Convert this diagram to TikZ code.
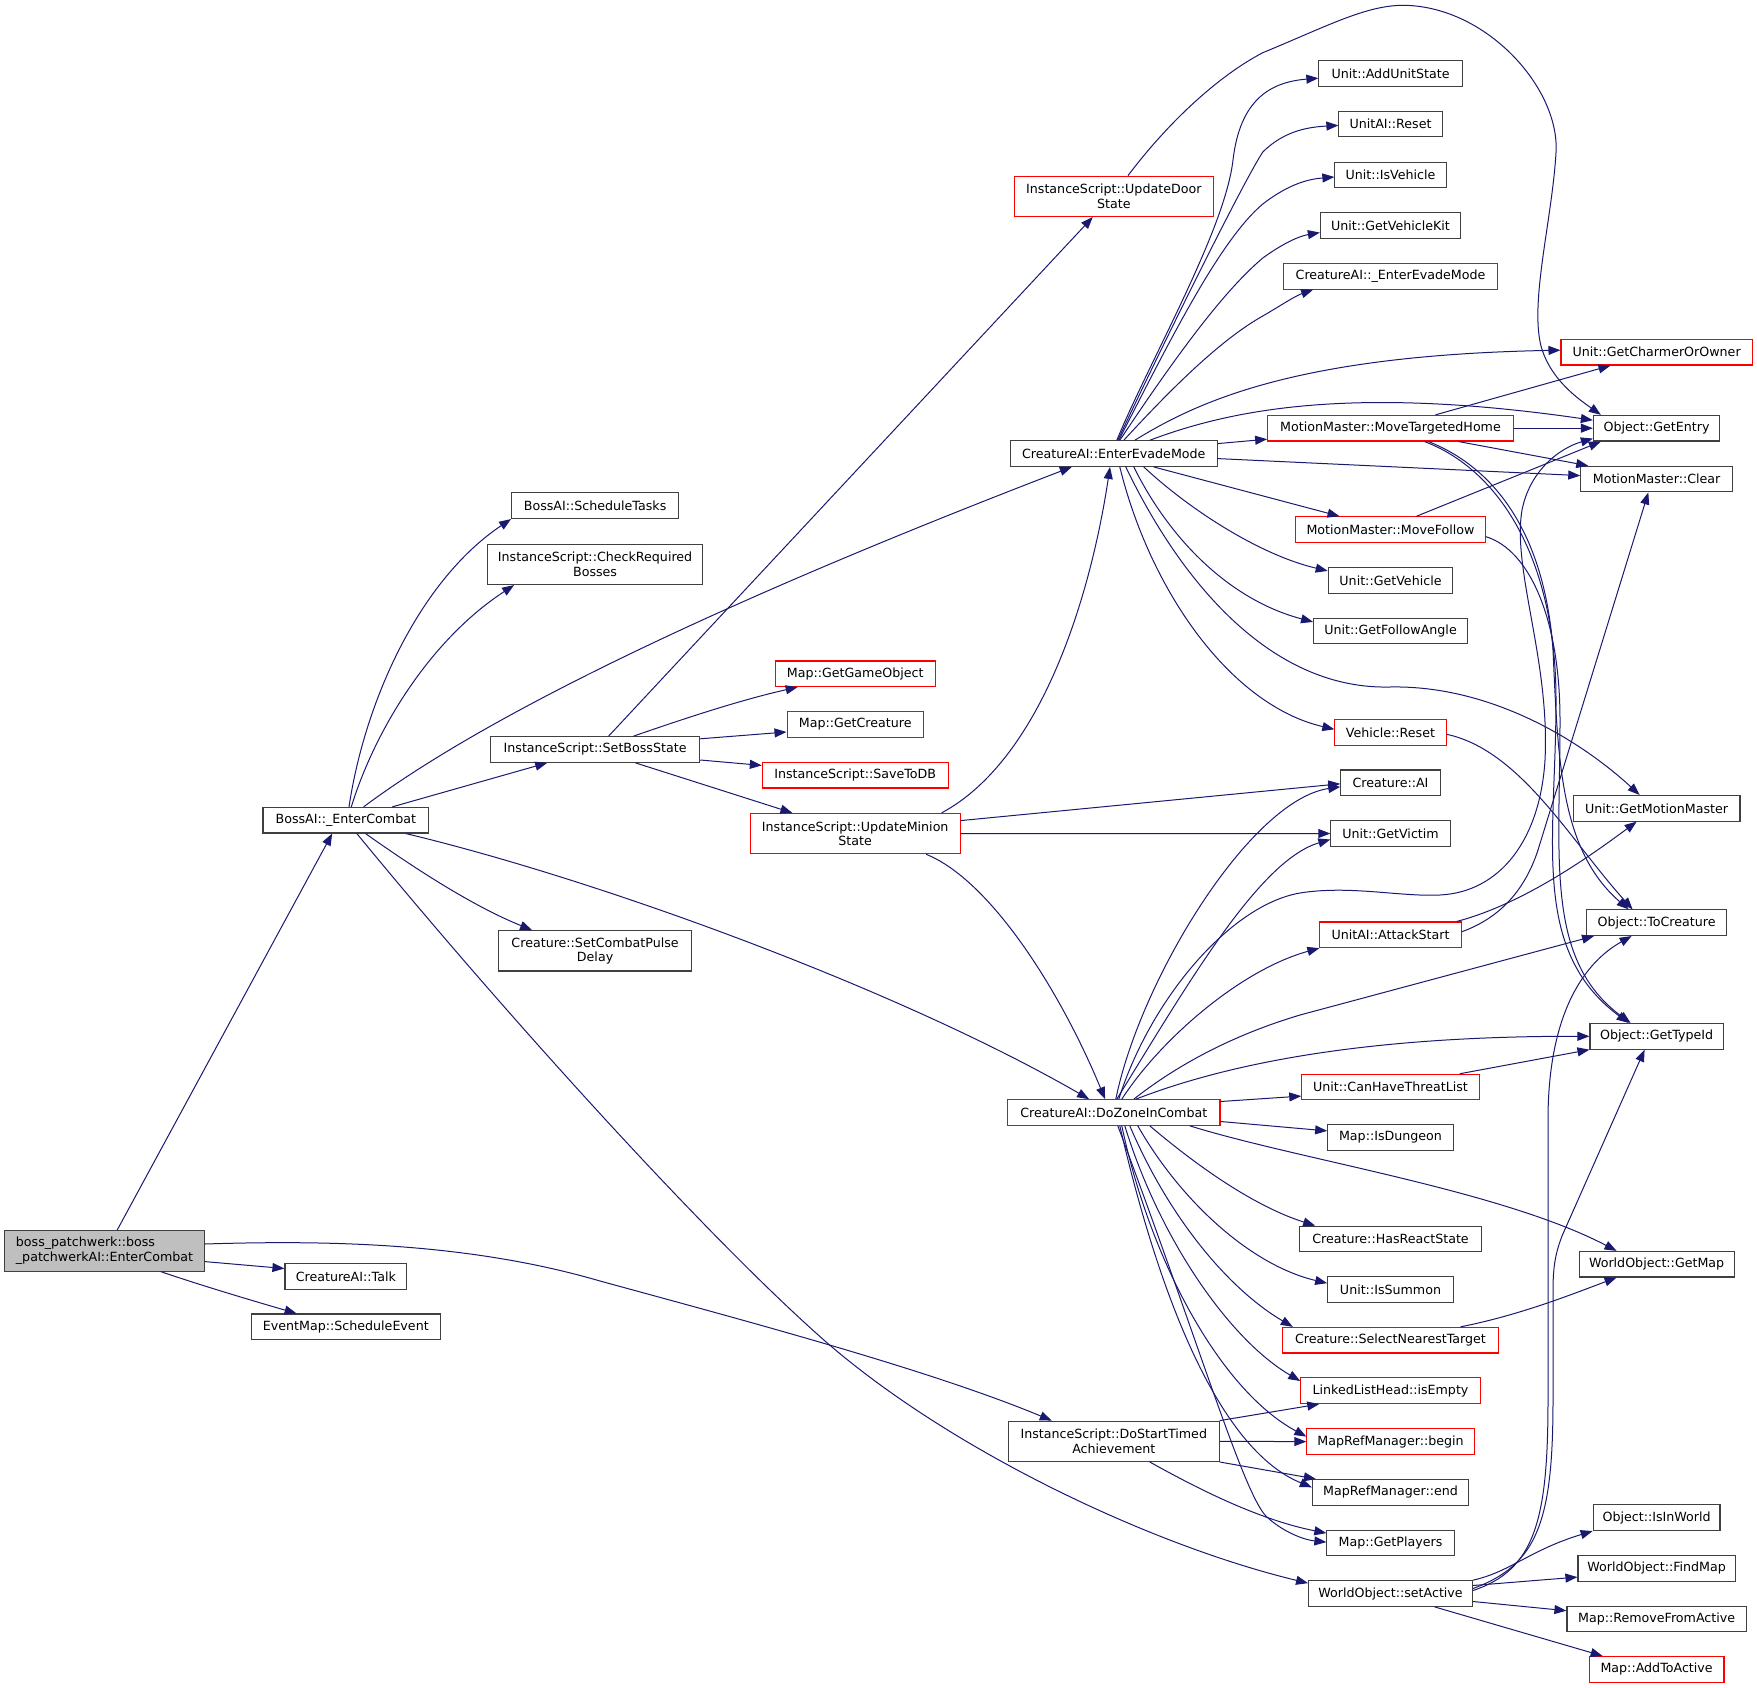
\documentclass[tikz,border=0pt]{standalone}
\usepackage{fontspec}
\setmainfont{DejaVu Sans}
\usetikzlibrary{arrows.meta,calc}
\definecolor{edgeblue}{HTML}{191970}
\definecolor{boxgrey}{HTML}{404040}
\definecolor{rootfill}{HTML}{BFBFBF}
\newcommand{\nodefnt}{\fontsize{12.65}{14.5}\selectfont}
\begin{document}
\begin{tikzpicture}[x=1pt,y=-1pt,
  box/.style={draw=boxgrey, line width=1.1pt, minimum height=25.6pt, inner sep=0pt, font=\nodefnt, align=center},
  redbox/.style={box, draw=red},
  tall/.style={minimum height=40.3pt},
  edg/.style={draw=edgeblue, line width=1pt, -{Triangle[length=12pt,width=9pt]}}]
\useasboundingbox (0,0) rectangle (1757,1688);

% column 0/1
\node[box, tall, fill=rootfill, align=left, minimum width=199.8pt] (root) at (104.5,1250.9) {boss\_patchwerk::boss\\\_patchwerkAI::EnterCombat};
\node[box, minimum width=165.7pt] (enter) at (345.8,820.2) {BossAI::\_EnterCombat};
\node[box, minimum width=121.7pt] (talk) at (345.8,1276.3) {CreatureAI::Talk};
\node[box, minimum width=188.7pt] (sched) at (345.8,1326.8) {EventMap::ScheduleEvent};
% column 2
\node[box, minimum width=167pt] (tasks) at (595.1,505.7) {BossAI::ScheduleTasks};
\node[box, tall, minimum width=214.9pt] (checkreq) at (595.1,564.4) {InstanceScript::CheckRequired\\Bosses};
\node[box, minimum width=209.2pt] (setboss) at (595.1,749.5) {InstanceScript::SetBossState};
\node[box, tall, minimum width=193.4pt] (pulse) at (595.1,950.8) {Creature::SetCombatPulse\\Delay};
% column 3
\node[redbox, minimum width=160pt] (getgo) at (855.2,673.8) {Map::GetGameObject};
\node[redbox, minimum width=136.3pt] (getcre) at (855.2,724.3) {Map::GetCreature};
\node[redbox, minimum width=185.7pt] (savedb) at (855.2,775.2) {InstanceScript::SaveToDB};
\node[redbox, tall, minimum width=209.7pt] (minion) at (855.2,833.6) {InstanceScript::UpdateMinion\\State};
% column 4
\node[redbox, tall, minimum width=199pt] (door) at (1113.8,196.3) {InstanceScript::UpdateDoor\\State};
\node[box, minimum width=206.6pt] (evade) at (1113.8,453.6) {CreatureAI::EnterEvadeMode};
\node[redbox, minimum width=212.3pt] (zone) at (1113.8,1112.5) {CreatureAI::DoZoneInCombat};
\node[box, tall, minimum width=210.8pt] (timed) at (1113.8,1441.3) {InstanceScript::DoStartTimed\\Achievement};
% column 5
\node[box, minimum width=143.2pt] (addstate) at (1390.5,73.6) {Unit::AddUnitState};
\node[box, minimum width=103.2pt] (aireset) at (1390.5,124.1) {UnitAI::Reset};
\node[box, minimum width=111.2pt] (isveh) at (1390.5,175) {Unit::IsVehicle};
\node[box, minimum width=140.2pt] (vehkit) at (1390.5,225.6) {Unit::GetVehicleKit};
\node[redbox, minimum width=213.6pt] (uevade) at (1390.5,276.3) {CreatureAI::\_EnterEvadeMode};
\node[redbox, minimum width=245.6pt] (mth) at (1390.5,428.2) {MotionMaster::MoveTargetedHome};
\node[redbox, minimum width=189.2pt] (follow) at (1390.5,529.6) {MotionMaster::MoveFollow};
\node[box, minimum width=124.5pt] (getveh) at (1390.5,580.4) {Unit::GetVehicle};
\node[box, minimum width=153.8pt] (angle) at (1390.5,630.9) {Unit::GetFollowAngle};
\node[redbox, minimum width=111.2pt] (vreset) at (1390.5,732.3) {Vehicle::Reset};
\node[box, minimum width=99.4pt] (cai) at (1390.5,782.8) {Creature::AI};
\node[box, minimum width=119.2pt] (victim) at (1390.5,833.5) {Unit::GetVictim};
\node[redbox, minimum width=141.2pt] (attack) at (1390.5,934.8) {UnitAI::AttackStart};
\node[redbox, minimum width=177.4pt] (threat) at (1390.5,1087.1) {Unit::CanHaveThreatList};
\node[box, minimum width=125.6pt] (dungeon) at (1390.5,1137.6) {Map::IsDungeon};
\node[box, minimum width=181.6pt] (react) at (1390.5,1239) {Creature::HasReactState};
\node[box, minimum width=125.6pt] (summon) at (1390.5,1289.7) {Unit::IsSummon};
\node[redbox, minimum width=216.3pt] (nearest) at (1390.5,1340.2) {Creature::SelectNearestTarget};
\node[redbox, minimum width=179.4pt] (empty) at (1390.5,1390.7) {LinkedListHead::isEmpty};
\node[redbox, minimum width=167.2pt] (mbegin) at (1390.5,1441.6) {MapRefManager::begin};
\node[box, minimum width=156.2pt] (mend) at (1390.5,1492.3) {MapRefManager::end};
\node[box, minimum width=127.2pt] (players) at (1390.5,1543.1) {Map::GetPlayers};
\node[box, minimum width=163.8pt] (active) at (1390.5,1593.5) {WorldObject::setActive};
% column 6
\node[redbox, minimum width=191.2pt] (charmer) at (1656.6,352.2) {Unit::GetCharmerOrOwner};
\node[box, minimum width=126.4pt] (entry) at (1656.6,428.2) {Object::GetEntry};
\node[box, minimum width=151.6pt] (clear) at (1656.6,479.1) {MotionMaster::Clear};
\node[box, minimum width=166.8pt] (motion) at (1656.6,808.3) {Unit::GetMotionMaster};
\node[box, minimum width=140.1pt] (tocre) at (1656.6,922.7) {Object::ToCreature};
\node[box, minimum width=133.2pt] (typeid) at (1656.6,1036.3) {Object::GetTypeId};
\node[box, minimum width=155pt] (getmap) at (1656.6,1264.2) {WorldObject::GetMap};
\node[box, minimum width=126.8pt] (inworld) at (1656.6,1517.7) {Object::IsInWorld};
\node[box, minimum width=157.3pt] (findmap) at (1656.6,1568.4) {WorldObject::FindMap};
\node[box, minimum width=179.3pt] (remove) at (1656.6,1619.1) {Map::RemoveFromActive};
\node[redbox, minimum width=134.8pt] (addactive) at (1656.6,1669.3) {Map::AddToActive};

% root
\draw[edg] ($(root.north)+(12.6,0)$) -- ($(enter.south)+(-13.6,0)$);
\draw[edg] ($(root.east)+(0,10.7)$) -- ($(talk.west)+(0,-7.8)$);
\draw[edg] ($(root.south)+(56.2,0)$) .. controls (200,1285) and (250,1300) .. ($(sched.north)+(-49.2,0)$);
\draw[edg] ($(root.east)+(0,-6.9)$) .. controls (330,1240) and (470,1243) .. (600,1281) .. controls (750,1322) and (930,1370) .. ($(timed.north)+(-62,0)$);
% BossAI::_EnterCombat
\draw[edg] ($(enter.north)+(3.2,0)$) .. controls (365,700) and (420,580) .. (tasks.south west);
\draw[edg] ($(enter.north)+(5.5,0)$) .. controls (375,730) and (430,640) .. ($(checkreq.south west)+(27,0)$);
\draw[edg] ($(enter.north)+(17.8,0)$) .. controls (480,720) and (700,610) .. ($(evade.south)+(-42,0)$);
\draw[edg] ($(enter.north)+(46.5,0)$) -- ($(setboss.south)+(-47.9,0)$);
\draw[edg] ($(enter.south)+(19.7,0)$) .. controls (410,865) and (470,905) .. ($(pulse.north)+(-63,0)$);
\draw[edg] ($(enter.south)+(60,0)$) .. controls (600,880) and (900,990) .. ($(zone.north)+(-24.7,0)$);
\draw[edg] ($(enter.south)+(11,0)$) .. controls (510,1020) and (710,1240) .. (825,1341) .. controls (950,1450) and (1150,1545) .. ($(active.north west)+(0,3)$);
% SetBossState
\draw[edg] ($(setboss.north)+(13.5,0)$) -- ($(door.south)+(-21,0)$);
\draw[edg] ($(setboss.north)+(38.4,0)$) .. controls (680,720) and (740,700) .. ($(getgo.south west)+(23,0)$);
\draw[edg] ($(setboss.east)+(0,-10.7)$) -- ($(getcre.west)+(0,7.7)$);
\draw[edg] ($(setboss.east)+(0,10.5)$) -- ($(savedb.west)+(0,-9.8)$);
\draw[edg] ($(setboss.south)+(40.3,0)$) -- ($(minion.north)+(-62.8,0)$);
% UpdateMinionState
\draw[edg] ($(minion.north)+(86.4,0)$) .. controls (1040,760) and (1090,600) .. ($(evade.south)+(-3.8,0)$);
\draw[edg] ($(minion.east)+(0,-13)$) -- ($(cai.west)+(0,1)$);
\draw[edg] (minion.east) -- (victim.west);
\draw[edg] ($(minion.south)+(71,0)$) .. controls (990,880) and (1060,990) .. ($(zone.north)+(-8.7,0)$);
% UpdateDoorState
\draw[edg] ($(door.north)+(14.2,0)$) .. controls (1170,120) and (1220,75) .. (1262.8,52.7) .. controls (1330,25) and (1370,3) .. (1409.4,5.5) .. controls (1490,10) and (1560,90) .. (1556,152.7) .. controls (1552,220) and (1530,300) .. (1540.8,345.3) .. controls (1550,380) and (1580,400) .. ($(entry.north west)+(8,0)$);
% EnterEvadeMode
\draw[edg] ($(evade.north)+(3,0)$) .. controls (1150,360) and (1225,230) .. (1233,160) .. controls (1240,100) and (1270,82) .. ($(addstate.west)+(0,4.6)$);
\draw[edg] ($(evade.north)+(4,0)$) .. controls (1160,350) and (1243,182) .. (1262.8,152) .. controls (1285,130) and (1310,127) .. ($(aireset.west)+(0,1.3)$);
\draw[edg] ($(evade.north)+(5,0)$) .. controls (1170,340) and (1220,240) .. (1262.8,204) .. controls (1290,183) and (1310,179) .. ($(isveh.west)+(0,2)$);
\draw[edg] ($(evade.north)+(6,0)$) .. controls (1180,350) and (1225,290) .. (1262.8,258) .. controls (1285,242) and (1300,236) .. ($(vehkit.west)+(0,7)$);
\draw[edg] ($(evade.north)+(10,0)$) .. controls (1170,390) and (1220,340) .. (1262.8,316) .. controls (1280,306) and (1295,296) .. ($(uevade.south west)+(30,0)$);
\draw[edg] ($(evade.north)+(21,0)$) .. controls (1200,400) and (1300,355) .. ($(charmer.west)+(0,-2)$);
\draw[edg] ($(evade.north)+(36,0)$) .. controls (1230,410) and (1350,385) .. ($(entry.west)+(0,-8)$);
\draw[edg] ($(evade.east)+(0,-10)$) -- ($(mth.west)+(0,11)$);
\draw[edg] ($(evade.east)+(0,5)$) -- ($(clear.west)+(0,-3.5)$);
\draw[edg] ($(evade.south)+(40,0)$) -- ($(follow.north)+(-51,0)$);
\draw[edg] ($(evade.south)+(30,0)$) .. controls (1190,510) and (1260,555) .. ($(getveh.west)+(0,-9.5)$);
\draw[edg] ($(evade.south)+(20,0)$) .. controls (1170,540) and (1230,600) .. ($(angle.west)+(0,-9)$);
\draw[edg] ($(evade.south)+(12,0)$) .. controls (1180,580) and (1270,690) .. (1390,687) .. controls (1490,685) and (1580,740) .. ($(motion.north)+(-17,0)$);
\draw[edg] ($(evade.south)+(6,0)$) .. controls (1150,590) and (1230,705) .. ($(vreset.west)+(0,-3)$);
% MoveTargetedHome
\draw[edg] ($(mth.north)+(45,0)$) -- ($(charmer.south west)+(50,0)$);
\draw[edg] (mth.east) -- (entry.west);
\draw[edg] ($(mth.south)+(68,0)$) -- ($(clear.north west)+(8,0)$);
\draw[edg] ($(mth.south)+(38,0)$) .. controls (1500,470) and (1545,540) .. (1553,650) .. controls (1558,760) and (1560,850) .. ($(tocre.north)+(-28,0)$);
\draw[edg] ($(mth.south)+(34,0)$) .. controls (1500,470) and (1556,560) .. (1556,700) .. controls (1556,840) and (1530,950) .. ($(typeid.north)+(-28,0)$);
% MoveFollow, Vehicle::Reset, AttackStart
\draw[edg] ($(follow.north)+(26,0)$) -- ($(entry.south west)+(8,0)$);
\draw[edg] ($(follow.east)+(0,7)$) .. controls (1530,550) and (1560,620) .. (1560,720) .. controls (1560,860) and (1545,960) .. ($(typeid.north)+(-26,0)$);
\draw[edg] ($(vreset.east)+(0,2)$) .. controls (1520,750) and (1570,840) .. ($(tocre.north)+(-24,0)$);
\draw[edg] ($(attack.north east)+(-5,0)$) .. controls (1520,905) and (1585,860) .. ($(motion.south)+(-20,0)$);
\draw[edg] ($(attack.east)+(0,-3)$) .. controls (1500,918) and (1525,890) .. (1538,850) -- ($(clear.south)+(-8.3,0)$);
% DoZoneInCombat
\draw[edg] ($(zone.north)+(2,0)$) .. controls (1140,980) and (1250,800) .. ($(cai.west)+(0,4)$);
\draw[edg] ($(zone.north)+(3,0)$) .. controls (1190,980) and (1260,860) .. ($(victim.west)+(0,6)$);
\draw[edg] ($(zone.north)+(5,0)$) .. controls (1150,1000) and (1230,905) .. (1300,893) .. controls (1350,885) and (1400,897) .. (1440,895) .. controls (1500,892) and (1540,840) .. (1545,760) .. controls (1550,660) and (1512,570) .. (1522,510) .. controls (1530,470) and (1560,448) .. ($(entry.south west)+(0,-3)$);
\draw[edg] ($(zone.north)+(8,0)$) .. controls (1160,1040) and (1240,970) .. (attack.south west);
\draw[edg] ($(zone.north)+(20,0)$) .. controls (1190,1055) and (1250,1030) .. (1300,1015) -- ($(tocre.south west)+(8,0)$);
\draw[edg] ($(zone.north)+(22,0)$) .. controls (1250,1055) and (1400,1036) .. (typeid.west);
\draw[edg] ($(zone.east)+(0,-11)$) -- ($(threat.west)+(0,9)$);
\draw[edg] ($(zone.east)+(0,9)$) -- ($(dungeon.west)+(0,-6.7)$);
\draw[edg] ($(zone.south)+(76,0)$) .. controls (1300,1160) and (1500,1190) .. ($(getmap.north west)+(38,0)$);
\draw[edg] ($(zone.south)+(36,0)$) .. controls (1190,1160) and (1250,1205) .. ($(react.north west)+(16,0)$);
\draw[edg] ($(zone.south)+(24,0)$) .. controls (1180,1200) and (1250,1265) .. ($(summon.west)+(0,-6.5)$);
\draw[edg] ($(zone.south)+(16,0)$) .. controls (1170,1220) and (1230,1290) .. ($(nearest.north west)+(11,0)$);
\draw[edg] ($(zone.south)+(11,0)$) .. controls (1160,1240) and (1230,1340) .. ($(empty.west)+(0,-9.7)$);
\draw[edg] ($(zone.south)+(8,0)$) .. controls (1150,1260) and (1220,1390) .. ($(mbegin.west)+(0,-5)$);
\draw[edg] ($(zone.south)+(6,0)$) .. controls (1160,1300) and (1220,1450) .. ($(mend.west)+(0,-5)$);
\draw[edg] ($(zone.south)+(4,0)$) .. controls (1200,1345) and (1245,1500) .. (1268,1518) .. controls (1285,1533) and (1305,1540) .. ($(players.west)+(0,-1)$);
% DoStartTimedAchievement
\draw[edg] (timed.north east) -- ($(empty.south west)+(19,0)$);
\draw[edg] (timed.east) -- (mbegin.west);
\draw[edg] (timed.south east) -- ($(mend.north west)+(4,0)$);
\draw[edg] ($(timed.south)+(36,0)$) .. controls (1200,1490) and (1260,1520) .. ($(players.west)+(0,-10)$);
% setActive
\draw[edg] (active.north east) .. controls (1510,1572) and (1530,1550) .. (inworld.south west);
\draw[edg] ($(active.east)+(0,-8)$) -- ($(findmap.west)+(0,8.7)$);
\draw[edg] ($(active.east)+(0,8)$) -- ($(remove.west)+(0,-8.4)$);
\draw[edg] ($(active.south)+(44,0)$) -- ($(addactive.north west)+(14,0)$);
\draw[edg] ($(active.east)+(0,-3)$) .. controls (1535,1570) and (1548,1520) .. (1548,1400) -- (1548,1120) .. controls (1548,1020) and (1580,965) .. ($(tocre.south)+(-25,0)$);
\draw[edg] ($(active.east)+(0,-5)$) .. controls (1538,1565) and (1553,1520) .. (1553,1400) -- (1553,1290) .. controls (1553,1265) and (1556,1252) .. (1562,1236) -- ($(typeid.south)+(-12,0)$);
% others
\draw[edg] ($(threat.north east)+(-20,0)$) -- (typeid.south west);
\draw[edg] ($(nearest.north)+(70,0)$) .. controls (1520,1315) and (1570,1295) .. ($(getmap.south west)+(38,0)$);
\end{tikzpicture}
\end{document}
